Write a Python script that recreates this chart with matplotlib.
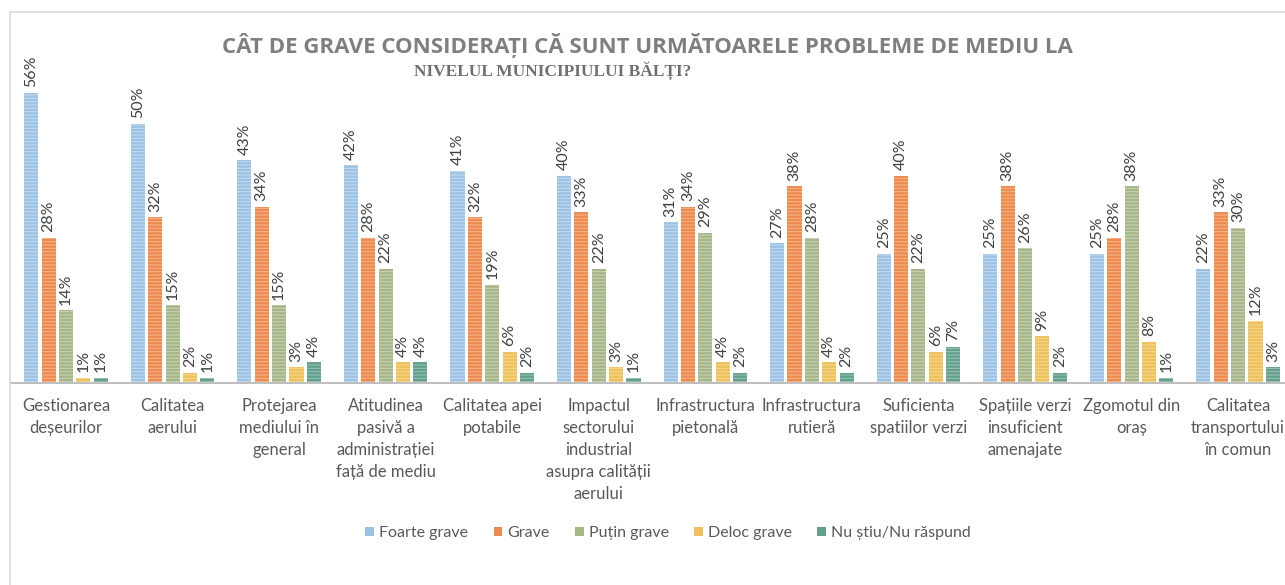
import matplotlib
matplotlib.use("Agg")
import matplotlib.pyplot as plt
import numpy as np
from matplotlib.patches import Patch
from matplotlib.lines import Line2D

categories = ["Gestionarea\ndeșeurilor", "Calitatea\naerului", "Protejarea\nmediului în\ngeneral",
              "Atitudinea\npasivă a\nadministrației\nfață de mediu", "Calitatea apei\npotabile",
              "Impactul\nsectorului\nindustrial\nasupra calității\naerului", "Infrastructura\npietonală",
              "Infrastructura\nrutieră", "Suficienta\nspatiilor verzi", "Spațiile verzi\ninsuficient\namenajate",
              "Zgomotul din\noraș", "Calitatea\ntransportului\nîn comun"]
series_names = ["Foarte grave", "Grave", "Puțin grave", "Deloc grave", "Nu știu/Nu răspund"]
foarte_grave = [56, 50, 43, 42, 41, 40, 31, 27, 25, 25, 25, 22]
grave = [28, 32, 34, 28, 32, 33, 34, 38, 40, 38, 28, 33]
putin_grave = [14, 15, 15, 22, 19, 22, 29, 28, 22, 26, 38, 30]
deloc_grave = [1, 2, 3, 4, 6, 3, 4, 4, 6, 9, 8, 12]
nu_stiu = [1, 1, 4, 4, 2, 1, 2, 2, 7, 2, 1, 3]
title1 = "CÂT DE GRAVE CONSIDERAȚI CĂ SUNT URMĂTOARELE PROBLEME DE MEDIU LA"
title2 = "NIVELUL MUNICIPIULUI BĂLȚI?"

fills = ["#9cc2e4", "#ee8a4e", "#a6b689", "#eec15a", "#62a08c"]
stripes = ["#c9def2", "#f6b78f", "#cbd5b8", "#f6da96", "#9cc5b8"]

plt.rcParams['font.family'] = ['Lato', 'DejaVu Sans']
plt.rcParams['hatch.linewidth'] = 0.7

fig = plt.figure(figsize=(12.85, 5.85), dpi=100)
W, H = 1285, 585
ax = fig.add_axes([12 / W, 1 - 383 / H, 1 - 12 / W, 343 / H])
ax.set_ylim(0, 343 / 5.18)
ax.set_xlim(-0.507, 11.44)

x = np.arange(len(categories))
step, width = 0.163, 0.132
data = [foarte_grave, grave, putin_grave, deloc_grave, nu_stiu]
for k, vals in enumerate(data):
    bars = ax.bar(x + (k - 2) * step, vals, width, color=fills[k], edgecolor=stripes[k],
                  linewidth=0, hatch='-----', label=series_names[k])
    ax.bar_label(bars, labels=[f"{v}%" for v in vals], rotation=90, padding=4,
                 fontsize=11.5, color='#404040')

for s in ['top', 'right', 'left']:
    ax.spines[s].set_visible(False)
ax.spines['bottom'].set_color('#bfbfbf')
ax.spines['bottom'].set_linewidth(1.5)
ax.set_yticks([])
ax.set_xticks(x)
ax.set_xticklabels(categories, fontsize=12, color='#595959', linespacing=1.45)
ax.tick_params(axis='x', length=0, pad=11)

fig.text(647 / W, 1 - 45 / H, title1, ha='center', va='center', fontsize=16,
         fontweight='bold', color='#7f7f7f', family=['Open Sans', 'DejaVu Sans'])
fig.text(553 / W, 1 - 71 / H, title2, ha='center', va='center', fontsize=12.5,
         fontweight='bold', color='#6f6f6f', family=['Liberation Serif', 'DejaVu Serif'])

handles = [Patch(facecolor=fills[k], edgecolor='none') for k in range(5)]
fig.legend(handles, series_names, loc='center', bbox_to_anchor=(668 / W, 1 - 533 / H), ncol=5,
           frameon=False, fontsize=11.5, labelcolor='#595959', handlelength=0.55, handleheight=0.55,
           handletextpad=0.3, columnspacing=1.6)

fig.add_artist(Line2D([10 / W, 1], [1 - 12 / H, 1 - 12 / H], color='#d9d9d9', lw=1.2,
                      transform=fig.transFigure))
fig.add_artist(Line2D([10 / W, 10 / W], [0, 1 - 12 / H], color='#d9d9d9', lw=1.2,
                      transform=fig.transFigure))

fig.savefig("out.png", dpi=100, facecolor='white')
